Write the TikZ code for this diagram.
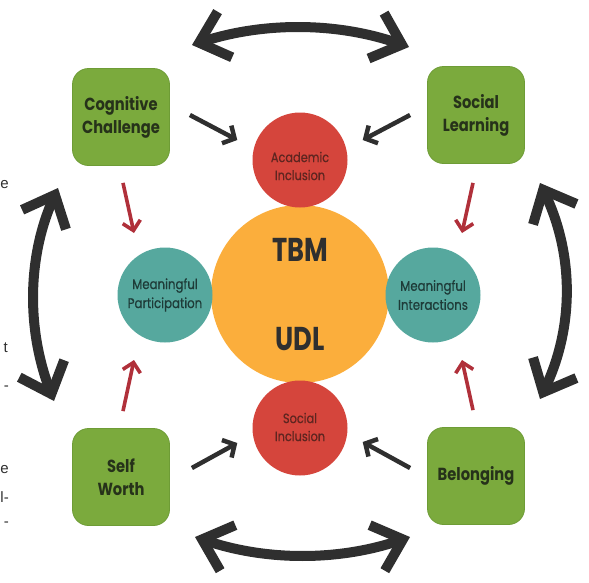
\documentclass[tikz,border=0pt]{standalone}
\usepackage{fontspec}
\setmainfont{Poppins}
\newfontfamily\geo{Poppins}[FakeStretch=0.84]
\newfontfamily\geomid{Poppins}[FakeStretch=0.84, FakeBold=0.6]
\newfontfamily\geohead{Poppins}[FakeStretch=0.78]
\newfontfamily\margin{Liberation Sans}
\usetikzlibrary{arrows.meta,calc}

\definecolor{leaf}{HTML}{7BAA3D}
\definecolor{leafedge}{HTML}{6E9C36}
\definecolor{hubfill}{HTML}{FBAE3C}
\definecolor{rose}{HTML}{D5453C}
\definecolor{sea}{HTML}{56A89E}
\definecolor{ink}{HTML}{2F2F2F}
\definecolor{crimson}{HTML}{B0303A}
\definecolor{boxtext}{HTML}{26321A}
\definecolor{rosetext}{HTML}{5E2520}
\definecolor{seatext}{HTML}{1E3B38}

\tikzset{
  pillar/.style={rectangle, rounded corners=16pt, fill=leaf, draw=leafedge, line width=0.8pt,
    minimum size=97pt, inner sep=0pt, align=center, text=boxtext,
    font=\geo\bfseries\fontsize{17.5}{23}\selectfont},
  hub/.style={circle, fill=hubfill, minimum size=178pt, inner sep=0pt},
  hubword/.style={text=ink, font=\geohead\bfseries\fontsize{33}{33}\selectfont},
  roseball/.style={circle, fill=rose, minimum size=95pt, inner sep=0pt},
  roselabel/.style={align=center, inner sep=0pt, text=rosetext,
    font=\geomid\fontsize{13.5}{18}\selectfont},
  seaball/.style={circle, fill=sea, minimum size=95pt, inner sep=0pt, align=center,
    text=seatext, font=\geomid\fontsize{14}{19}\selectfont},
  link/.style={draw=ink, line width=4.5pt, -{Straight Barb[length=9pt,width=20pt]}},
  feed/.style={draw=crimson, line width=3.6pt, -{Straight Barb[length=9pt,width=18pt]}},
  cycle/.style={draw=ink, line width=10pt,
    {Straight Barb[length=27pt,width=48pt]}-{Straight Barb[length=27pt,width=48pt]}},
  edgetext/.style={text=ink, font=\margin\fontsize{15}{15}\selectfont, anchor=east, inner sep=0pt}
}

\begin{document}
\begin{tikzpicture}[x=1pt,y=-1pt]
\useasboundingbox (0,0) rectangle (589,582);

% centre and the four circles around it
\node[hub] (hub) at (300,294) {};
\node[hubword] (tbm) at (300,250) {TBM};
\node[hubword] (udl) at (300,339) {UDL};

\node[roseball] (acad) at (300,160) {};
\node[roselabel] (acadtext) at (300,166) {Academic\\Inclusion};
\node[roseball] (sinc) at (300,428) {};
\node[roselabel] (sinctext) at (300,427) {Social\\Inclusion};
\node[seaball] (part) at (165,295) {Meaningful\\Participation};
\node[seaball] (inter) at (433,295) {Meaningful\\Interactions};

% the four corner boxes
\node[pillar] (cog) at (121,117) {Cognitive\\Challenge};
\node[pillar] (soc) at (476,115) {Social\\Learning};
\node[pillar] (self) at (121,477) {Self\\Worth};
\node[pillar] (bel) at (476,476) {Belonging};

% boxes feeding the inclusion circles
\draw[link] ($(cog.east)+(20,-2)$) -- ($(acad.west)+(-15,-20)$);
\draw[link] ($(soc.west)+(-17,0)$) -- ($(acad.east)+(15,-20)$);
\draw[link] ($(self.east)+(22,-9)$) -- ($(sinc.west)+(-15,15)$);
\draw[link] ($(bel.west)+(-17,-8)$) -- ($(sinc.east)+(15,14)$);

% boxes feeding the meaningful circles
\draw[feed] ($(cog.south)+(2,17)$) -- ($(part.center)+(-31,-62)$);
\draw[feed] ($(self.north)+(2,-17)$) -- ($(part.center)+(-31,65)$);
\draw[feed] ($(soc.south)+(-3,19)$) -- ($(inter.center)+(29,-62)$);
\draw[feed] ($(bel.north)+(-3,-17)$) -- ($(inter.center)+(29,65)$);

% end points of the curved two-way arrows
\coordinate (topL) at (192,45);
\coordinate (topR) at (409,47);
\coordinate (botL) at (195,537);
\coordinate (botR) at (410,537);
\coordinate (leftT) at (58,188);
\coordinate (leftB) at (54,401);
\coordinate (rightT) at (540,183);
\coordinate (rightB) at (540,399);

\draw[cycle] (topL) .. controls (264,22) and (336,22) .. (topR);
\draw[cycle] (botL) .. controls (267,561) and (338,561) .. (botR);
\draw[cycle] (leftT) .. controls (27,258) and (27,330) .. (leftB);
\draw[cycle] (rightT) .. controls (574,255) and (574,327) .. (rightB);

% cut-off text along the left edge
\node[edgetext] (m1) at (9,185) {e};
\node[edgetext] (m2) at (8,348) {t};
\node[edgetext] (m3) at (9,388) {-};
\node[edgetext] (m4) at (9,470) {e};
\node[edgetext] (m5) at (9,497) {l-};
\node[edgetext] (m6) at (9,524) {-};
\end{tikzpicture}
\end{document}
